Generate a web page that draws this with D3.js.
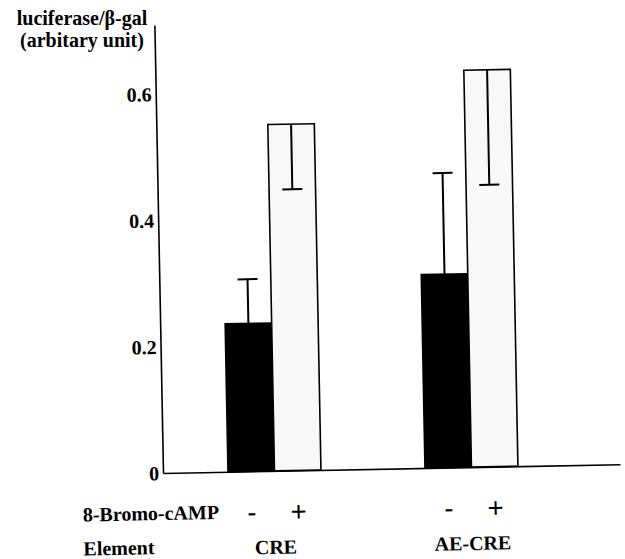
<!DOCTYPE html>
<html>
<head>
<meta charset="utf-8">
<script src="https://cdn.jsdelivr.net/npm/d3@7"></script>
<style>
  html, body { margin: 0; padding: 0; background: #fff; }
  svg { display: block; }
</style>
</head>
<body>
<svg id="chart" width="625" height="559"></svg>
<script>
// ---- data ----
const elements = ["CRE", "AE-CRE"];
const treatments = ["-", "+"];
const meanMinus = [0.234, 0.306];   // 8-Bromo-cAMP -
const meanPlus  = [0.548, 0.628];   // 8-Bromo-cAMP +
const errMinus  = [0.070, 0.160];   // drawn upward
const errPlus   = [0.103, 0.182];   // drawn downward
const yTickValues = [0, 0.2, 0.4, 0.6];
const yTickLabels = ["0", "0.2", "0.4", "0.6"];
const yTitle = ["luciferase/\u03b2-gal", "(arbitary unit)"];
const rowLabels = ["8-Bromo-cAMP", "Element"];

const FONT = '"Liberation Serif", "Times New Roman", serif';

const rows = [];
elements.forEach((el, i) => {
  rows.push({ element: el, treat: "-", mean: meanMinus[i], err: errMinus[i], dir: 1 });
  rows.push({ element: el, treat: "+", mean: meanPlus[i], err: errPlus[i], dir: -1 });
});

const svg = d3.select("#chart");
function styleText(sel, size) {
  return sel.style("font-family", FONT).style("font-weight", "bold")
    .style("font-size", size + "px").attr("fill", "#000");
}

// scales (local frame: origin at axes corner)
const axisHeight = 448;
const y = d3.scaleLinear().domain([0, axisHeight / 632]).range([0, -axisHeight]);
const x0 = d3.scaleBand().domain(elements).range([65, 355]).paddingInner(0.528).paddingOuter(0);
const x1 = d3.scaleBand().domain(treatments).range([0, x0.bandwidth()]);
const xLine = d3.scaleLinear().domain([0, 1]).range([0, 457]);

const g = svg.append("g").attr("transform", "translate(163,473) rotate(-1.1)");

// bars
g.selectAll("rect.bar").data(rows).join("rect")
  .attr("class", "bar")
  .attr("x", d => x0(d.element) + x1(d.treat))
  .attr("width", x1.bandwidth())
  .attr("y", d => y(d.mean))
  .attr("height", d => y(0) - y(d.mean))
  .attr("fill", d => d.treat === "-" ? "#000" : "#f8f8f8")
  .attr("stroke", "#000")
  .attr("stroke-width", 1.6);

// error bars
const capW = 20;
const eb = g.selectAll("g.err").data(rows).join("g").attr("class", "err")
  .attr("transform", d => `translate(${x0(d.element) + x1(d.treat) + x1.bandwidth() / 2},0)`);
eb.append("line")
  .attr("x1", 0).attr("x2", 0)
  .attr("y1", d => y(d.mean))
  .attr("y2", d => y(d.mean + d.dir * d.err))
  .attr("stroke", "#000").attr("stroke-width", 2);
eb.append("line")
  .attr("x1", -capW / 2).attr("x2", capW / 2)
  .attr("y1", d => y(d.mean + d.dir * d.err))
  .attr("y2", d => y(d.mean + d.dir * d.err))
  .attr("stroke", "#000").attr("stroke-width", 2);

// y axis
const yAxis = d3.axisLeft(y).tickValues(yTickValues)
  .tickFormat((d, i) => yTickLabels[i]).tickSize(0).tickPadding(4);
const ya = g.append("g").call(yAxis);
ya.select(".domain").attr("stroke", "#000").attr("stroke-width", 1.6);
styleText(ya.selectAll(".tick text"), 20).attr("dy", "0.34em");

// x axis baseline
const xa = g.append("g").call(d3.axisBottom(xLine).tickValues([]).tickSizeOuter(0));
xa.select(".domain").attr("stroke", "#000").attr("stroke-width", 1.6);

// bottom labels
g.selectAll("text.treat").data(rows).join("text")
  .attr("class", "treat")
  .attr("x", d => x0(d.element) + x1(d.treat) + x1.bandwidth() / 2)
  .attr("y", d => d.treat === "-" ? 49 : 51)
  .attr("text-anchor", "middle")
  .text(d => d.treat === "-" ? "-" : "+")
  .style("font-family", FONT).style("font-weight", "bold").attr("fill", "#000")
  .style("font-size", d => d.treat === "-" ? "26px" : "29px");

styleText(g.selectAll("text.elem").data(elements).join("text")
  .attr("class", "elem")
  .attr("x", d => x0(d) + x0.bandwidth() / 2)
  .attr("y", 83)
  .attr("text-anchor", "middle")
  .text(d => d), 20);

styleText(g.selectAll("text.rowlab").data(rowLabels).join("text")
  .attr("class", "rowlab")
  .attr("x", -81)
  .attr("y", (d, i) => i === 0 ? 47 : 81)
  .text(d => d), 20);

// y title
styleText(svg.selectAll("text.ytitle").data(yTitle).join("text")
  .attr("class", "ytitle")
  .attr("x", 82)
  .attr("y", (d, i) => 25 + i * 22)
  .attr("text-anchor", "middle")
  .text(d => d), 20);
</script>
</body>
</html>
